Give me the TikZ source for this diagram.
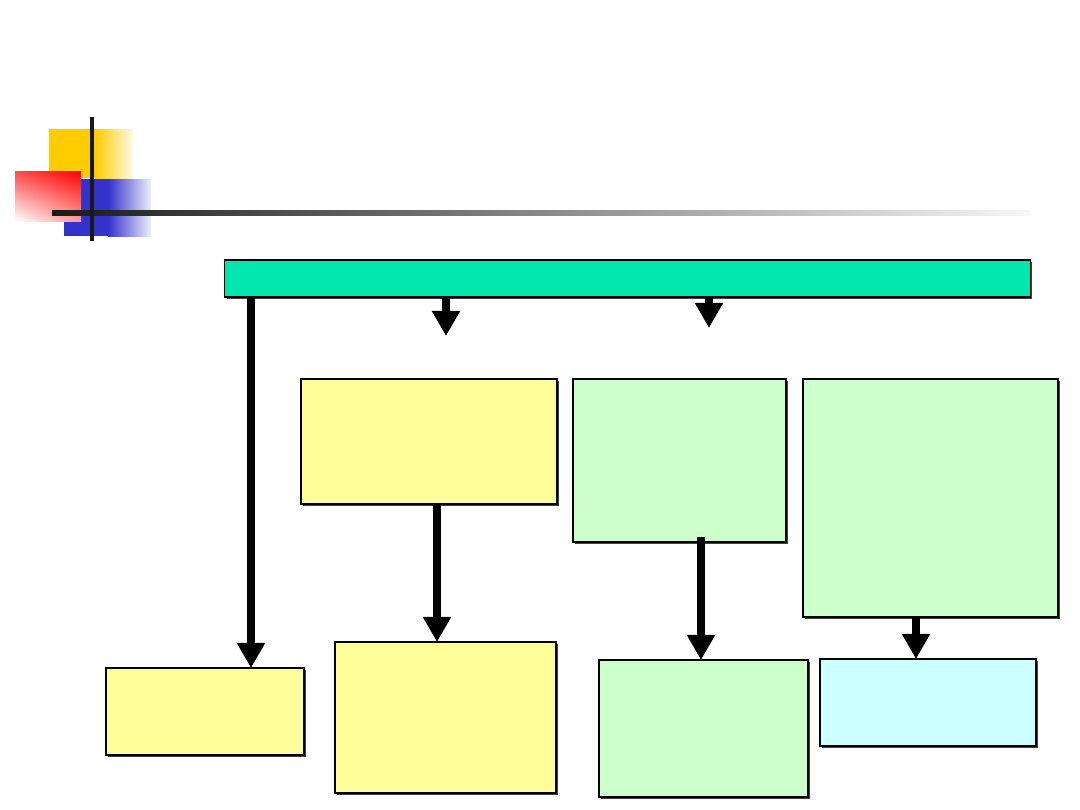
\documentclass[tikz,border=0pt]{standalone}
\usepackage{xcolor}
\usetikzlibrary{arrows.meta,positioning,shadows,shadings}

\definecolor{barteal}{HTML}{00E6AE}
\definecolor{paleyellow}{HTML}{FFFF99}
\definecolor{palegreen}{HTML}{CCFFCC}
\definecolor{palecyan}{HTML}{CCFFFF}
\definecolor{logoyellow}{HTML}{FFCC00}
\definecolor{logoblue}{HTML}{3333CC}

\begin{document}
\begin{tikzpicture}[
    x=0.025cm, y=-0.025cm,
    box/.style={rectangle, draw, line width=0.8pt, inner sep=0pt, outer sep=0pt,
        drop shadow={shadow xshift=0.05cm, shadow yshift=-0.05cm, opacity=1, fill=black!75}},
    arrow/.style={-{Triangle[width=0.67cm,length=0.63cm]}, line width=0.2cm}
]
\useasboundingbox (0,0) rectangle (1080,810);

% Logo squares
\fill[logoyellow] (49,129) rectangle (95,178);
\shade[left color=logoyellow, right color=logoyellow!10] (95,129) rectangle (133,178);
\fill[logoblue] (64,179) rectangle (108,236);
\shade[left color=logoblue, right color=logoblue!8] (108,179) rectangle (151,236);
\shade[upper right=red, upper left=red!70, lower right=red!40, lower left=white] (15,171) rectangle (81,221);

% Logo lines
\shade[left color=black!90, middle color=black!65, right color=black!3] (52,210) rectangle (1030,215);
\fill[black!90] (90,117) rectangle (94,241);

% Top bar
\node[box, fill=barteal, minimum width=20.125cm, minimum height=0.925cm] (bar) at (627.5,278.5) {};

% Second row
\node[box, fill=paleyellow, minimum width=6.4cm, minimum height=3.125cm] (Y1) at (429,441.5) {};
\node[box, fill=palegreen, minimum width=5.325cm, minimum height=4.075cm] (G1) at (679.5,460.5) {};
\node[box, fill=palegreen, minimum width=6.375cm, minimum height=5.95cm] (G2) at (930.5,498) {};

% Bottom row
\node[box, fill=paleyellow, minimum width=4.95cm, minimum height=2.175cm] (Y0) at (205,711.5) {};
\node[box, fill=paleyellow, minimum width=5.525cm, minimum height=3.775cm] (Y2) at (445.5,717.5) {};
\node[box, fill=palegreen, minimum width=5.225cm, minimum height=3.425cm] (G3) at (703.5,728.5) {};
\node[box, fill=palecyan, minimum width=5.4cm, minimum height=2.175cm] (C) at (928,702.5) {};

% Arrow columns
\coordinate (colA) at (251,0);
\coordinate (colB) at (437,0);
\coordinate (colC) at (701,0);
\coordinate (colD) at (916,0);
\coordinate (stubA) at (446,336);
\coordinate (stubB) at (709,328);

% Arrows
\draw[arrow] (bar.south -| colA) -- (Y0.north -| colA);
\draw[arrow] (bar.south -| stubA) -- (stubA);
\draw[arrow] (bar.south -| stubB) -- (stubB);
\draw[arrow] (Y1.south -| colB) -- (Y2.north -| colB);
\draw[arrow] ([yshift=0.12cm]G1.south -| colC) -- (G3.north -| colC);
\draw[arrow] (G2.south -| colD) -- (C.north -| colD);

\end{tikzpicture}
\end{document}
